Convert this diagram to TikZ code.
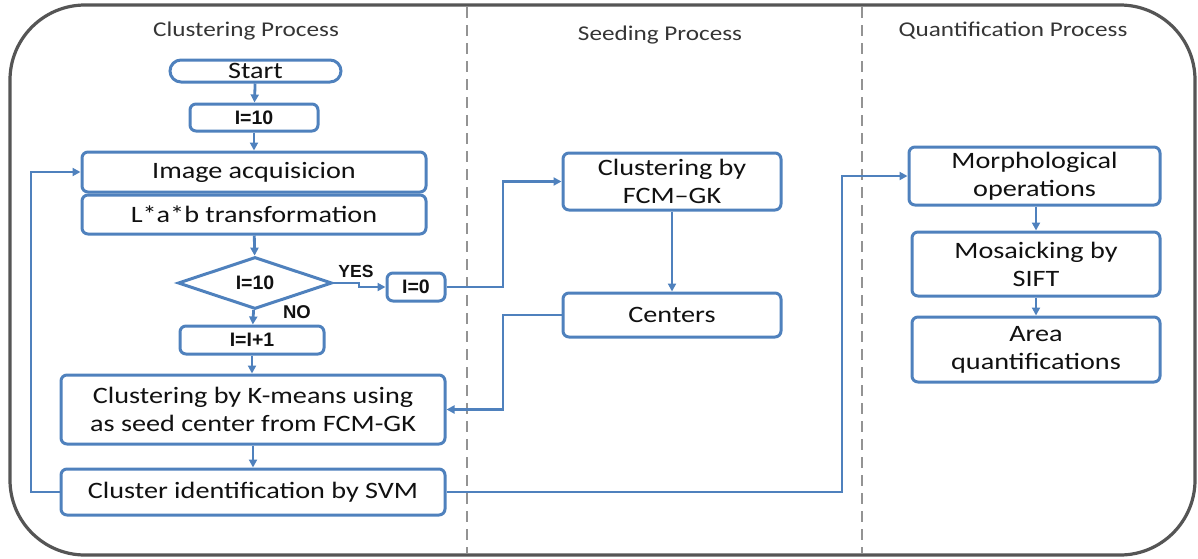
\documentclass[tikz,border=0pt]{standalone}
\usepackage{fontspec}
\setmainfont[FakeStretch=1.2]{Carlito}
\newfontfamily\arialb{Liberation Sans}
\usetikzlibrary{shapes.geometric,arrows.meta}
\definecolor{bl}{HTML}{4F81BD}
\definecolor{fr}{HTML}{555555}
\definecolor{tx}{HTML}{111111}
\begin{document}
\begin{tikzpicture}[x=1pt,y=-1pt,
  box/.style={draw=bl,line width=3pt,rounded corners=6pt,fill=white,align=center,
    inner sep=0pt,text=tx,font=\fontsize{23.5}{28}\selectfont},
  lbox/.style={draw=bl,line width=3pt,rounded corners=6pt,fill=white,inner sep=0pt,
    text=tx,font=\arialb\bfseries\fontsize{19.5}{22}\selectfont},
  lbl/.style={inner sep=0pt,text=tx,font=\arialb\bfseries\fontsize{17.5}{20}\selectfont},
  ttl/.style={inner sep=0pt,text=tx!85,font=\fontsize{21}{24}\selectfont},
  conn/.style={draw=bl,line width=2.8pt,-{Triangle[length=8pt,width=8pt]}},
  divider/.style={draw=gray!85,line width=2pt,dash pattern=on 11pt off 7pt}]
\useasboundingbox (0,0) rectangle (1198,558);
% frame and dividers
\draw[fr,line width=3.2pt,rounded corners=75pt] (10,5) rectangle (1195,555);
\draw[divider] (467,7) -- (467,553);
\draw[divider] (862,7) -- (862,553);
% titles
\node[ttl] (t1) at (246,31) {Clustering Process};
\node[ttl] (t2) at (660,35) {Seeding Process};
\node[ttl] (t3) at (1013,31) {Quantification Process};
% clustering column
\node[box,rounded corners=11pt,minimum width=171pt,minimum height=22pt] (start) at (255.5,71) {Start};
\node[lbox,minimum width=128pt,minimum height=27pt] (i10) at (254,117.5) {I=10};
\node[box,minimum width=344pt,minimum height=40pt] (acq) at (254,172) {Image acquisicion};
\node[box,minimum width=344pt,minimum height=39pt] (lab) at (254,214.5) {L*a*b transformation};
\node[diamond,aspect=3,draw=bl,line width=3pt,fill=white,inner sep=0pt,minimum width=154pt,
  minimum height=52pt,text=tx,font=\arialb\bfseries\fontsize{19.5}{22}\selectfont] (dec) at (255,283) {I=10};
\node[lbox,minimum width=58pt,minimum height=28pt] (i0) at (416,287) {I=0};
\node[lbox,minimum width=144pt,minimum height=28pt] (inc) at (252,340) {I=I+1};
\node[box,minimum width=384pt,minimum height=69pt] (km) at (253,409.5) {Clustering by K-means using\\as seed center from FCM-GK};
\node[box,minimum width=384pt,minimum height=46pt] (svm) at (253,492) {Cluster identification by SVM};
\node[lbl] (yes) at (356,271) {YES};
\node[lbl,font=\arialb\bfseries\fontsize{18.5}{20}\selectfont] (no) at (297,312) {NO};
% seeding column
\node[box,minimum width=218pt,minimum height=57pt] (fcm) at (672,181.5) {Clustering by\\FCM--GK};
\node[box,minimum width=218pt,minimum height=44pt] (cen) at (672,315) {Centers};
% quantification column
\node[box,minimum width=251pt,minimum height=58pt] (mor) at (1034.5,176) {Morphological\\operations};
\node[box,minimum width=248pt,minimum height=64pt] (mos) at (1036,264) {Mosaicking by\\SIFT};
\node[box,minimum width=248pt,minimum height=65pt] (area) at (1036,349.5) {Area\\quantifications};
% helper coordinates
\coordinate (jl) at (31,0);
\coordinate (jm) at (503,0);
\coordinate (jr) at (842,0);
\coordinate (ya) at (359,283);
\coordinate (yb) at (359,287);
% connectors
\draw[conn] (start) -- (i10);
\draw[conn] (i10) -- (acq);
\draw[conn] (lab) -- (dec);
\draw[conn] (dec) -- (inc);
\draw[conn] (inc) -- (km.north -| inc);
\draw[conn] (km) -- (svm);
\draw[conn] (svm.west) -- (svm.west -| jl) |- (acq.west);
\draw[conn] (dec.east) -- (ya) -- (yb) -- (i0.west);
\draw[conn] (i0.east) -- (i0.east -| jm) |- (fcm.west);
\draw[conn] (fcm) -- (cen);
\draw[conn] (cen.west) -- (cen.west -| jm) |- (km.east);
\draw[conn] (svm.east) -- (svm.east -| jr) |- (mor.west);
\draw[conn] (mor.south -| mos) -- (mos);
\draw[conn] (mos) -- (area);
\end{tikzpicture}
\end{document}
